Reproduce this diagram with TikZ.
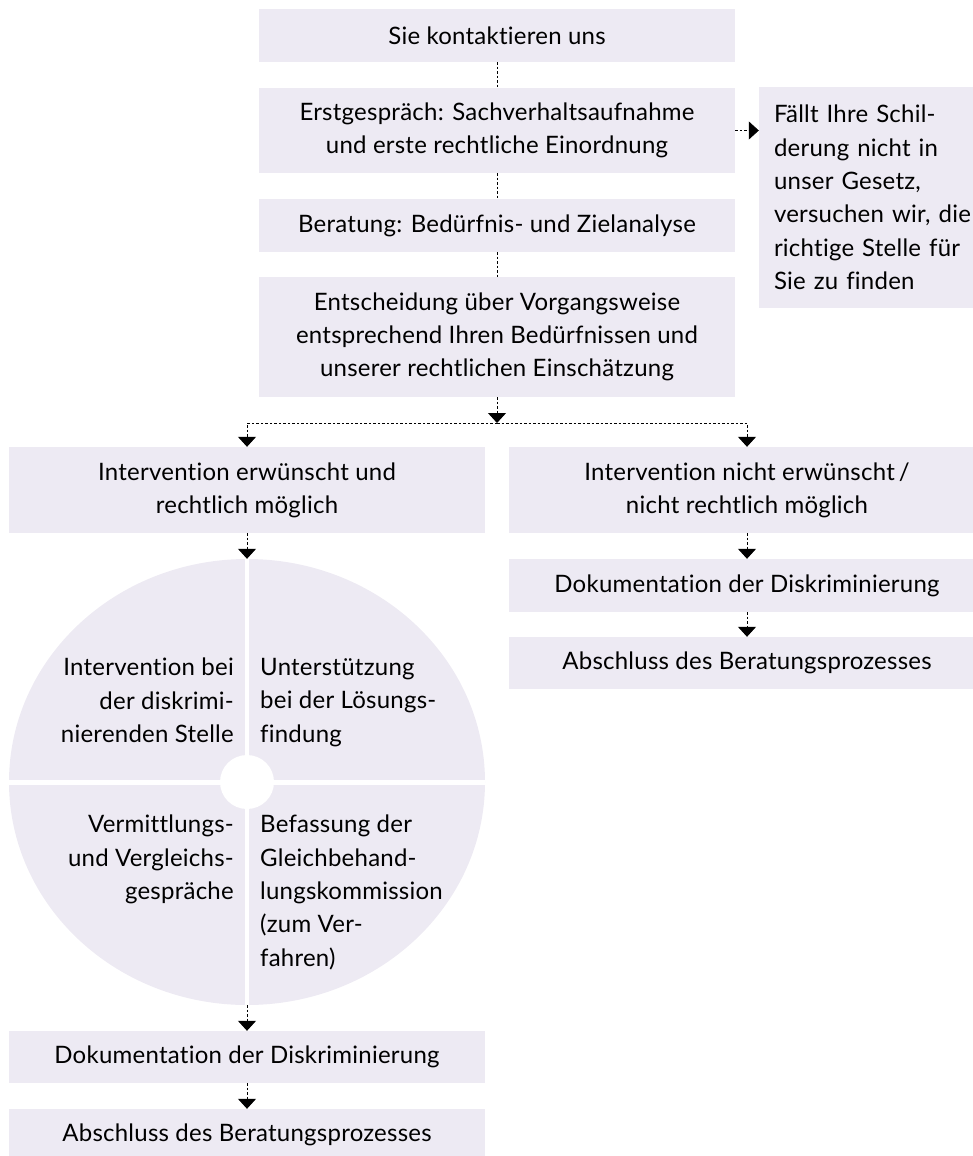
\documentclass[tikz,border=0pt]{standalone}
\usepackage{fontspec}
\setmainfont{Lato}[Ligatures={NoCommon},LetterSpace=1]
\usetikzlibrary{arrows.meta,shapes.geometric}
\definecolor{boxfill}{RGB}{237,234,243}
\begin{document}
\begin{tikzpicture}[x=1pt,y=-1pt,
  txt/.style={font=\fontsize{24}{33.3}\selectfont},
  box/.style={txt, fill=boxfill, inner sep=0pt, align=center, minimum width=476pt, minimum height=#1},
  conn/.style={line width=0.8pt, dash pattern=on 2.5pt off 2pt},
  arr/.style={conn, -{Triangle[width=18pt,length=10pt]}},
  quad/.style={txt, inner sep=0pt}]
\useasboundingbox (0,0) rectangle (973,1156);
\clip (0,0) rectangle (973,1156);

% top column
\node[box=53pt] (b1) at (497,35.5) {Sie kontaktieren uns};
\node[box=85pt] (b2) at (497,130.5) {Erstgespräch: Sachverhaltsaufnahme\\und erste rechtliche Einordnung};
\node[box=53pt] (b3) at (497,225.5) {Beratung: Bedürfnis- und Zielanalyse};
\node[box=120pt] (b4) at (497,337) {Entscheidung über Vorgangsweise\\entsprechend Ihren Bedürfnissen und\\unserer rechtlichen Einschätzung};
\node[txt, fill=boxfill, inner xsep=15pt, inner ysep=0pt, text width=199pt, align=left, minimum height=221pt] (side) at (873.5,197.5)
  {Fällt Ihre Schil-\\derung nicht in\\unser Gesetz,\\versuchen wir, die\\richtige Stelle für\\Sie zu finden};

% branches
\node[box=86pt] (l1) at (247,490) {Intervention erwünscht und\\rechtlich möglich};
\node[box=86pt] (r1) at (747,490) {Intervention nicht erwünscht\,/\\nicht rechtlich möglich};
\node[box=53pt] (r2) at (747,585.5) {Dokumentation der Diskriminierung};
\node[box=52pt] (r3) at (747,663) {Abschluss des Beratungsprozesses};

% wheel
\node[ellipse, fill=boxfill, inner sep=0pt, minimum width=476pt, minimum height=446pt] (wheel) at (247,782) {};
\draw[white, line width=4.5pt] (wheel.north) -- (wheel.south);
\draw[white, line width=5pt] (wheel.west) -- (wheel.east);
\fill[white] (wheel.center) circle[radius=27pt];

\node[quad, anchor=north east, align=right] (q1) at (234,658) {Intervention bei\\der diskrimi-\\nierenden Stelle};
\node[quad, anchor=north west, align=left] (q2) at (260,658) {Unterstützung\\bei der Lösungs-\\findung};
\node[quad, anchor=north east, align=right] (q3) at (234,815) {Vermittlungs-\\und Vergleichs-\\gespräche};
\node[quad, anchor=north west, align=left] (q4) at (260,815) {Befassung der\\Gleichbehand-\\lungskommission\\(zum Ver-\\fahren)};

\node[box=52pt] (l2) at (247,1057) {Dokumentation der Diskriminierung};
\node[box=52pt] (l3) at (247,1135) {Abschluss des Beratungsprozesses};

% connectors
\draw[conn] (b1.south) -- (b2.north);
\draw[conn] (b2.south) -- (b3.north);
\draw[conn] (b3.south) -- (b4.north);
\draw[arr] (b2.east) -- (side.west |- b2.east);
\coordinate (fork) at (497,423);
\draw[arr] (b4.south) -- (fork);
\draw[arr] (fork) -| (l1.north);
\draw[arr] (fork) -| (r1.north);
\draw[arr] (l1.south) -- (wheel.north);
\draw[arr] (wheel.south) -- (l2.north);
\draw[arr] (l2.south) -- (l3.north);
\draw[arr] (r1.south) -- (r2.north);
\draw[arr] (r2.south) -- (r3.north);
\end{tikzpicture}
\end{document}
